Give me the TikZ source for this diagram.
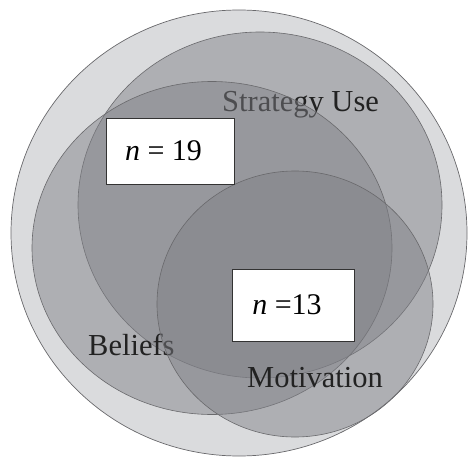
\documentclass[tikz,border=0pt]{standalone}
\usepackage{fontspec}
\setmainfont{Liberation Serif}
\usepackage{xcolor}
\usepackage{tikz}
\usetikzlibrary{positioning,shapes.geometric}
\definecolor{OuterC}{RGB}{218,219,221}
\definecolor{EllC}{RGB}{126,127,133}
\definecolor{RimC}{RGB}{105,105,108}
\definecolor{TextC}{RGB}{34,34,34}
\tikzset{
  outer/.style={ellipse,draw=RimC,fill=OuterC,line width=0.7pt,inner sep=0pt},
  venn/.style={ellipse,draw=RimC,line width=0.6pt,fill=EllC,fill opacity=0.47,
               inner sep=0pt},
  setlab/.style={anchor=base west,inner sep=0pt,text=TextC,
                 font=\fontsize{30.5}{36}\selectfont},
  countbox/.style={rectangle,draw=black!80,line width=0.9pt,fill=white,
                   inner sep=0pt,font=\fontsize{30}{36}\selectfont},
}

\begin{document}
\begin{tikzpicture}[x=1pt,y=-1pt]
  \useasboundingbox (0,0) rectangle (468,457);
  \node[outer,minimum width=456pt,minimum height=446pt] (all) at (239,233) {};
  % three sets, each label sits under the sets drawn after it
  \node[venn,minimum width=364pt,minimum height=346pt] (strat) at (260,205) {};
  \node[setlab] (stratlab) at (222,112) {Strategy Use};
  \node[venn,minimum width=360pt,minimum height=333pt] (belief) at (212,248) {};
  \node[setlab] (belieflab) at (88,355) {Beliefs};
  \node[venn,minimum width=276pt,minimum height=266pt] (motiv) at (295,304) {};
  \node[setlab] (motivlab) at (247,387) {Motivation};
  % counts
  \node[countbox,minimum width=128pt,minimum height=66pt] (nA) at (170,151)
    {\hspace*{-13pt}\textit{n} = 19};
  \node[countbox,minimum width=122pt,minimum height=72pt] (nB) at (293,305)
    {\hspace*{-12pt}\textit{n} =13};
\end{tikzpicture}
\end{document}
